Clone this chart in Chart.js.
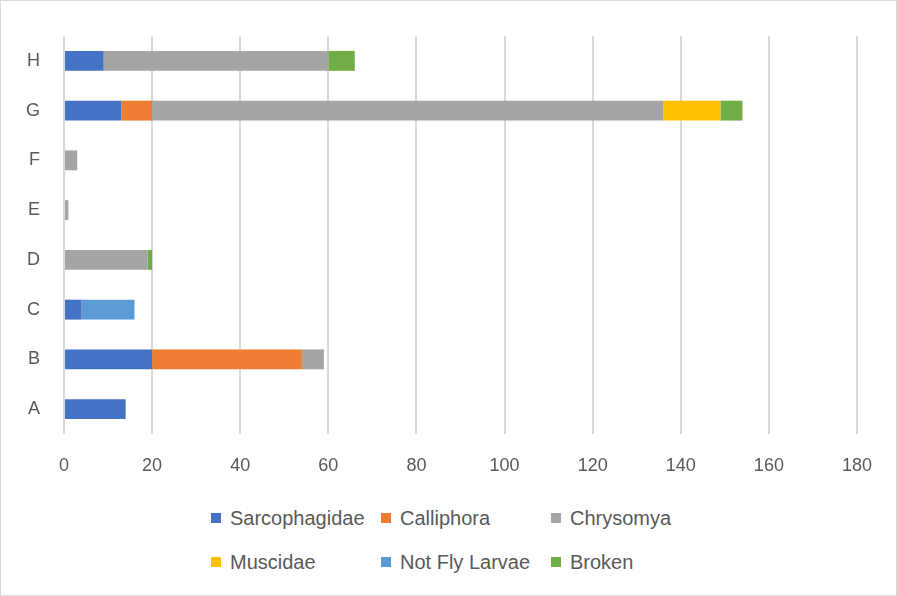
<!DOCTYPE html>
<html>
<head>
<meta charset="utf-8">
<script src="https://cdn.jsdelivr.net/npm/chart.js@4"></script>
<style>
  html, body { margin: 0; padding: 0; background: #fff; }
  body { width: 897px; height: 596px; position: relative; overflow: hidden; }
  .frame { position: absolute; left: 0; top: 0; width: 895px; height: 594px; border: 1px solid #d9d9d9; }
  .wrap { position: absolute; left: 0; top: 0; width: 897px; height: 490px; }
  #legend { position: absolute; left: 211px; top: 504px; display: grid;
    grid-template-columns: 170px 170px 170px; row-gap: 16px;
    font-family: "Liberation Sans", Arial, sans-serif; font-size: 20px; color: #595959; }
  #legend .item { display: flex; align-items: center; height: 28px; white-space: nowrap; }
  #legend .box { width: 10px; height: 10px; margin-right: 9px; }
</style>
</head>
<body>
<div class="frame"></div>
<div class="wrap"><canvas id="myChart" width="897" height="490"></canvas></div>
<div id="legend"></div>
<script>
const categories = ['A', 'B', 'C', 'D', 'E', 'F', 'G', 'H'];
const sarcophagidae = [14, 20, 4, 0, 0, 0, 13, 9];
const calliphora    = [0, 34, 0, 0, 0, 0, 7, 0];
const chrysomya     = [0, 5, 0, 19, 1, 3, 116, 51];
const muscidae      = [0, 0, 0, 0, 0, 0, 13, 0];
const notFlyLarvae  = [0, 0, 12, 0, 0, 0, 0, 0];
const broken        = [0, 0, 0, 1, 0, 0, 5, 6];

const series = [
    { label: 'Sarcophagidae', data: sarcophagidae, color: '#4472C4' },
    { label: 'Calliphora', data: calliphora, color: '#ED7D31' },
    { label: 'Chrysomya', data: chrysomya, color: '#A5A5A5' },
    { label: 'Muscidae', data: muscidae, color: '#FFC000' },
    { label: 'Not Fly Larvae', data: notFlyLarvae, color: '#5B9BD5' },
    { label: 'Broken', data: broken, color: '#70AD47' }
];

const ctx = document.getElementById('myChart');

new Chart(ctx, {
    type: 'bar',
    data: {
        labels: categories,
        datasets: series.map(s => ({
            label: s.label,
            data: s.data,
            backgroundColor: s.color,
            borderWidth: 0,
            barPercentage: 0.8,
            categoryPercentage: 0.5
        }))
    },
    options: {
        indexAxis: 'y',
        responsive: false,
        animation: false,
        layout: { padding: { top: 36, right: 40, left: 0, bottom: 0 } },
        scales: {
            x: {
                stacked: true,
                min: 0,
                max: 180,
                ticks: { stepSize: 20, color: '#595959', padding: 21,
                    font: { family: 'Liberation Sans', size: 18 } },
                grid: { color: '#d9d9d9', lineWidth: 2, drawTicks: false },
                border: { display: false },
                afterFit: axis => { axis.height = 56; }
            },
            y: {
                stacked: true,
                reverse: true,
                ticks: { color: '#595959', padding: 24,
                    font: { family: 'Liberation Sans', size: 18 } },
                grid: { display: false, drawTicks: false },
                border: { display: false },
                afterFit: axis => { axis.width = 64; }
            }
        },
        plugins: {
            legend: { display: false },
            tooltip: { enabled: false }
        }
    }
});

// legend laid out in a three-column grid
const legendEl = document.getElementById('legend');
series.forEach(s => {
    const item = document.createElement('div');
    item.className = 'item';
    const box = document.createElement('span');
    box.className = 'box';
    box.style.background = s.color;
    const text = document.createElement('span');
    text.textContent = s.label;
    item.appendChild(box);
    item.appendChild(text);
    legendEl.appendChild(item);
});
</script>
</body>
</html>
